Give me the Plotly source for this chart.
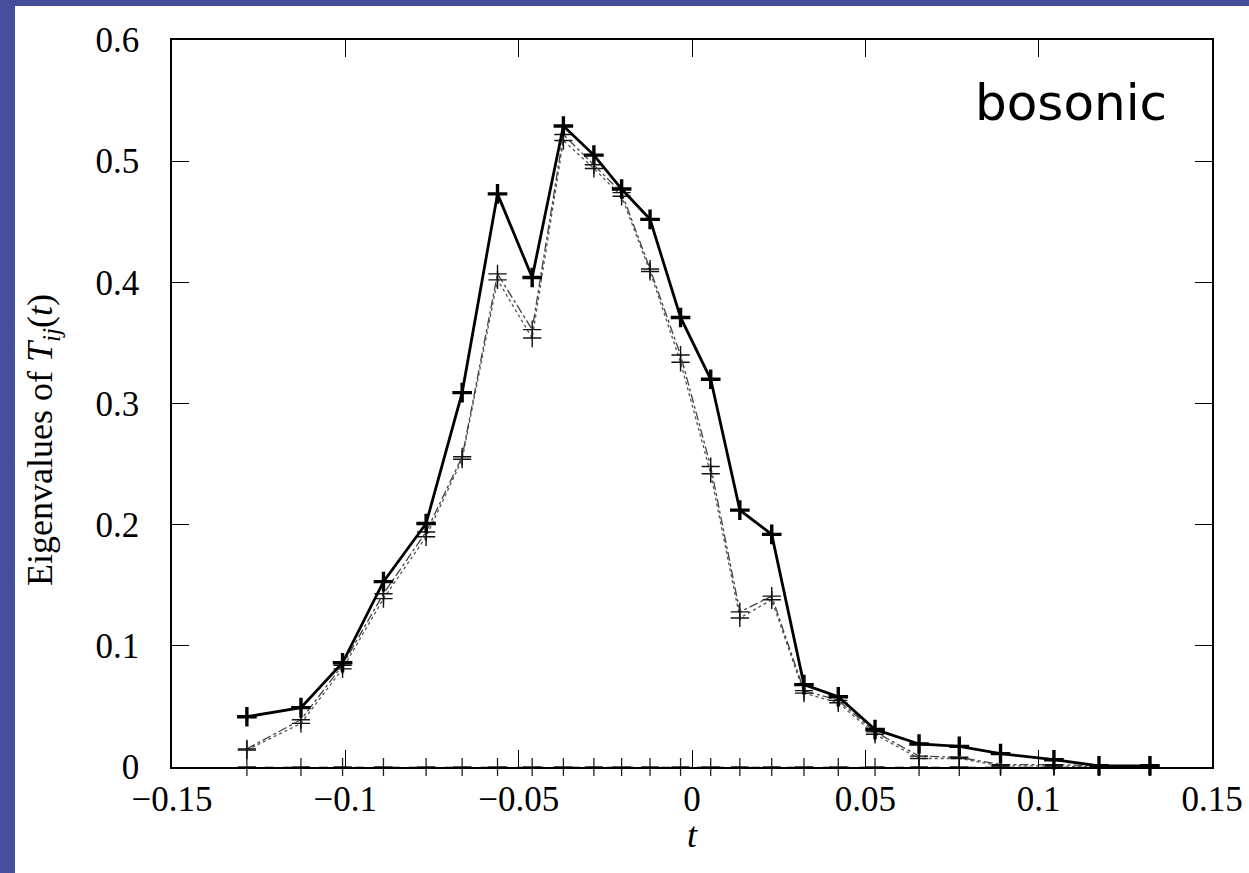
import plotly.graph_objects as go

# ---- data ----
t_vals = [-0.1284, -0.1128, -0.1008, -0.0890, -0.0767, -0.0663, -0.0561, -0.0461,
          -0.0371, -0.0283, -0.0203, -0.0121, -0.0033, 0.0054, 0.0138, 0.0230,
          0.0323, 0.0422, 0.0528, 0.0655, 0.0771, 0.0890, 0.1044, 0.1174, 0.1321]

eig1 = [0.0415, 0.049, 0.086, 0.153, 0.201, 0.309, 0.473, 0.404,
        0.529, 0.505, 0.477, 0.452, 0.371, 0.320, 0.212, 0.192,
        0.068, 0.058, 0.031, 0.019, 0.017, 0.011, 0.006, 0.001, 0.001]

eig2 = [0.015, 0.039, 0.084, 0.143, 0.194, 0.256, 0.407, 0.361,
        0.522, 0.497, 0.474, 0.411, 0.340, 0.248, 0.128, 0.141,
        0.063, 0.055, 0.029, 0.009, 0.008, 0.002, 0.002, 0.001, 0.0]

eig3 = [0.014, 0.036, 0.081, 0.139, 0.190, 0.254, 0.402, 0.354,
        0.517, 0.494, 0.471, 0.409, 0.334, 0.242, 0.123, 0.138,
        0.061, 0.053, 0.027, 0.007, 0.007, 0.001, 0.001, 0.0, 0.0]

eig4 = [0.0] * len(t_vals)

x_ticks = [-0.15, -0.1, -0.05, 0, 0.05, 0.1, 0.15]
x_ticktext = ["\u22120.15", "\u22120.1", "\u22120.05", "0", "0.05", "0.1", "0.15"]
y_ticks = [0, 0.1, 0.2, 0.3, 0.4, 0.5, 0.6]
y_ticktext = ["0", "0.1", "0.2", "0.3", "0.4", "0.5", "0.6"]

fig = go.Figure()

fig.add_trace(go.Scatter(
    x=t_vals, y=eig4, mode="lines+markers", cliponaxis=False,
    line=dict(color="#777777", width=1.2, dash="dash"),
    marker=dict(symbol="cross-thin", size=13, line=dict(color="#222222", width=1.3)),
    showlegend=False))
fig.add_trace(go.Scatter(
    x=t_vals, y=eig3, mode="lines+markers", cliponaxis=False,
    line=dict(color="#555555", width=1.3, dash="dot"),
    marker=dict(symbol="cross-thin", size=13, line=dict(color="#111111", width=1.4)),
    showlegend=False))
fig.add_trace(go.Scatter(
    x=t_vals, y=eig2, mode="lines+markers", cliponaxis=False,
    line=dict(color="#444444", width=1.3, dash="dashdot"),
    marker=dict(symbol="cross-thin", size=13, line=dict(color="#111111", width=1.4)),
    showlegend=False))
fig.add_trace(go.Scatter(
    x=t_vals, y=eig1, mode="lines+markers", cliponaxis=False,
    line=dict(color="#000000", width=2.8),
    marker=dict(symbol="cross-thin", size=14, line=dict(color="#000000", width=3.4)),
    showlegend=False))

W, H = 1249, 873
L, R, T, B = 172, 37, 40, 106
pw, ph = W - L - R, H - T - B
blue = "#454E9B"

def px_x(p):
    return (p - L) / pw

def px_y(p):
    return (H - B - p) / ph

shapes = [
    dict(type="rect", xref="paper", yref="paper", x0=px_x(-5), x1=px_x(15),
         y0=px_y(H + 5), y1=px_y(-5), fillcolor=blue, line=dict(width=0), layer="above"),
    dict(type="rect", xref="paper", yref="paper", x0=px_x(-5), x1=px_x(W + 5),
         y0=px_y(6), y1=px_y(-5), fillcolor=blue, line=dict(width=0), layer="above"),
]

axis_font = dict(family="Liberation Serif", size=35, color="#000000")
title_font = dict(family="Liberation Serif", size=36, color="#000000")

fig.update_layout(
    width=W, height=H,
    margin=dict(l=L, r=R, t=T, b=B, autoexpand=False),
    paper_bgcolor="white", plot_bgcolor="white",
    shapes=shapes,
    xaxis=dict(range=[-0.15, 0.15], tickvals=x_ticks, ticktext=x_ticktext,
               ticks="inside", ticklen=17, tickwidth=1.3, tickcolor="#000000",
               showline=True, linecolor="#000000", linewidth=1.5, mirror="ticks",
               showgrid=False, zeroline=False, tickfont=axis_font,
               ticklabelstandoff=0),
    yaxis=dict(range=[0, 0.6], tickvals=y_ticks, ticktext=y_ticktext,
               ticks="inside", ticklen=17, tickwidth=1.3, tickcolor="#000000",
               showline=True, linecolor="#000000", linewidth=1.5, mirror="ticks",
               showgrid=False, zeroline=False, tickfont=axis_font,
               ticklabelstandoff=24),
    annotations=[
        dict(text="bosonic", xref="paper", yref="paper",
             x=px_x(1169), y=px_y(103), xanchor="right", yanchor="middle",
             showarrow=False,
             font=dict(family="DejaVu Sans", size=50, color="#000000")),
        dict(text="Eigenvalues of <i>T</i><sub><i>ij</i></sub>(<i>t</i>)",
             xref="paper", yref="paper", x=px_x(42), y=px_y(440),
             xanchor="center", yanchor="middle", textangle=-90, showarrow=False,
             font=title_font),
        dict(text="<i>t</i>", xref="paper", yref="paper", x=px_x(692), y=px_y(835),
             xanchor="center", yanchor="middle", showarrow=False, font=title_font),
    ],
)

fig.write_html("out.html", config={"displayModeBar": False},
               post_script="document.body.style.margin='0px';")
